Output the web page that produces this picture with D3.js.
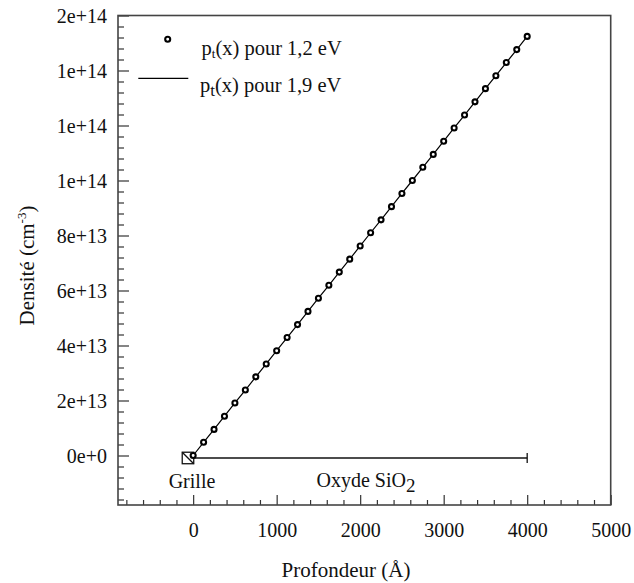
<!DOCTYPE html>
<html>
<head>
<meta charset="utf-8">
<script src="https://cdn.jsdelivr.net/npm/d3@7"></script>
<style>
  html, body { margin: 0; padding: 0; background: #fff; }
  svg { display: block; }
  svg text { font-family: "Liberation Serif", "Times New Roman", "DejaVu Serif", serif !important; fill: #111; }
</style>
</head>
<body>
<div id="chart"></div>
<script>
// Depth (Å) and trapped-hole density (cm^-3) through the oxide
const depth = [0, 125, 250, 375, 500, 625, 750, 875, 1000, 1125, 1250, 1375, 1500, 1625, 1750, 1875,
  2000, 2125, 2250, 2375, 2500, 2625, 2750, 2875, 3000, 3125, 3250, 3375, 3500, 3625, 3750, 3875, 4000];
const density12 = [0, 0.48e13, 0.95e13, 1.43e13, 1.91e13, 2.38e13, 2.86e13, 3.33e13, 3.81e13, 4.29e13,
  4.76e13, 5.24e13, 5.72e13, 6.19e13, 6.67e13, 7.14e13, 7.62e13, 8.10e13, 8.57e13, 9.05e13, 9.53e13,
  10.00e13, 10.48e13, 10.95e13, 11.43e13, 11.91e13, 12.38e13, 12.86e13, 13.34e13, 13.81e13, 14.29e13,
  14.76e13, 15.24e13];
const density19 = [0, 0.48e13, 0.95e13, 1.43e13, 1.91e13, 2.38e13, 2.86e13, 3.33e13, 3.81e13, 4.29e13,
  4.76e13, 5.24e13, 5.72e13, 6.19e13, 6.67e13, 7.14e13, 7.62e13, 8.10e13, 8.57e13, 9.05e13, 9.53e13,
  10.00e13, 10.48e13, 10.95e13, 11.43e13, 11.91e13, 12.38e13, 12.86e13, 13.34e13, 13.81e13, 14.29e13,
  14.76e13, 15.24e13];

// Axis ticks
const xTicks = [0, 1000, 2000, 3000, 4000, 5000];
const yTicks = [0, 2e13, 4e13, 6e13, 8e13, 1e14, 1.2e14, 1.4e14, 1.6e14];

// Structure markers: gate position and oxide extent
const gateDepth = -62;
const oxideStart = 0;
const oxideEnd = 4000;
const markerLevel = -9e11;

const W = 634, H = 583;
const M = { left: 118, right: 23.3, top: 15.5, bottom: 78 };
const serif = '"Liberation Serif", "Times New Roman", "DejaVu Serif", serif';

const svg = d3.select("#chart").append("svg")
  .attr("width", W).attr("height", H)
  .style("font-family", serif);

const x = d3.scaleLinear().domain([-900, 5000]).range([M.left, W - M.right]);
const y = d3.scaleLinear().domain([-1.8e13, 1.6e14]).range([H - M.bottom, M.top]);

const xMinor = d3.range(-4, 25).map(i => i * 200).filter(v => xTicks.indexOf(v) < 0);
const yMinor = d3.range(-4, 40).map(i => i * 4e12).filter(v => !yTicks.some(t => Math.abs(t - v) < 1));

const fmt = d3.format(".0e");
const axisColor = "#333";

// minor ticks (inside the frame)
svg.append("g").attr("transform", `translate(0,${y.range()[0]})`)
  .call(d3.axisBottom(x).tickValues(xMinor).tickSize(-5).tickFormat(""))
  .call(g => g.select(".domain").remove())
  .call(g => g.selectAll("line").attr("stroke", axisColor).attr("stroke-width", 1.2));
svg.append("g").attr("transform", `translate(${x.range()[0]},0)`)
  .call(d3.axisLeft(y).tickValues(yMinor).tickSize(-6).tickFormat(""))
  .call(g => g.select(".domain").remove())
  .call(g => g.selectAll("line").attr("stroke", axisColor).attr("stroke-width", 1.2));

// major ticks with labels
svg.append("g").attr("transform", `translate(0,${y.range()[0]})`)
  .call(d3.axisBottom(x).tickValues(xTicks).tickSize(-10).tickPadding(17.5).tickFormat(d3.format("d")))
  .call(g => g.attr("font-family", serif).attr("font-size", 20))
  .call(g => g.select(".domain").remove())
  .call(g => g.selectAll("line").attr("stroke", axisColor).attr("stroke-width", 1.2))
  .call(g => g.selectAll("text").style("fill", "#111"));
svg.append("g").attr("transform", `translate(${x.range()[0]},0)`)
  .call(d3.axisLeft(y).tickValues(yTicks).tickSize(-11).tickPadding(11).tickFormat(fmt))
  .call(g => g.attr("font-family", serif).attr("font-size", 20))
  .call(g => g.select(".domain").remove())
  .call(g => g.selectAll("line").attr("stroke", axisColor).attr("stroke-width", 1.2))
  .call(g => g.selectAll("text").attr("dy", "0.36em").style("fill", "#111"));

// frame
svg.append("rect")
  .attr("x", x.range()[0]).attr("y", y.range()[1])
  .attr("width", x.range()[1] - x.range()[0])
  .attr("height", y.range()[0] - y.range()[1])
  .attr("fill", "none").attr("stroke", "#444").attr("stroke-width", 1.6);

// axis titles
svg.append("text")
  .attr("x", 346).attr("y", 576.5)
  .attr("text-anchor", "middle").attr("font-size", 21)
  .text("Profondeur (Å)");

const yTitle = svg.append("text")
  .attr("transform", "translate(34,265.5) rotate(-90)")
  .attr("text-anchor", "middle").attr("font-size", 21);
yTitle.append("tspan").text("Densité (cm");
yTitle.append("tspan").attr("font-size", 13).attr("dy", -8).text("-3");
yTitle.append("tspan").attr("dy", 8).text(")");

// oxide bracket: from gate interface to the end of the oxide
const yb = y(markerLevel);
svg.append("line")
  .attr("x1", x(oxideStart)).attr("x2", x(oxideEnd))
  .attr("y1", yb).attr("y2", yb)
  .attr("stroke", "#111").attr("stroke-width", 1.3);
svg.append("line")
  .attr("x1", x(oxideEnd)).attr("x2", x(oxideEnd))
  .attr("y1", yb - 5).attr("y2", yb + 5)
  .attr("stroke", "#111").attr("stroke-width", 1.3);

// 1.9 eV profile as a line
const line = d3.line().x((d, i) => x(depth[i])).y(d => y(d));
svg.append("path")
  .datum(density19)
  .attr("d", line)
  .attr("fill", "none").attr("stroke", "#000").attr("stroke-width", 1.2);

// gate marker: square with a diagonal
const gx = x(gateDepth), s = 11.5;
svg.append("rect")
  .attr("x", gx - s / 2).attr("y", yb - s / 2).attr("width", s).attr("height", s)
  .attr("fill", "#fff").attr("stroke", "#111").attr("stroke-width", 1.3);
svg.append("line")
  .attr("x1", gx - s / 2).attr("y1", yb - s / 2).attr("x2", gx + s / 2).attr("y2", yb + s / 2)
  .attr("stroke", "#111").attr("stroke-width", 1.3);

// 1.2 eV profile as open circles
svg.append("g").selectAll("circle")
  .data(density12)
  .join("circle")
  .attr("cx", (d, i) => x(depth[i]))
  .attr("cy", d => y(d))
  .attr("r", 2.5)
  .attr("fill", "#fff").attr("stroke", "#000").attr("stroke-width", 2.1);

// region labels
svg.append("text")
  .attr("x", 192).attr("y", 488.3)
  .attr("text-anchor", "middle").attr("font-size", 20)
  .text("Grille");
const ox = svg.append("text")
  .attr("x", 316.5).attr("y", 487).attr("font-size", 20);
ox.append("tspan").text("Oxyde SiO");
ox.append("tspan").attr("dy", 5).attr("font-size", 19).text("2");

// legend
svg.append("circle")
  .attr("cx", 167.7).attr("cy", 39.3).attr("r", 2.5)
  .attr("fill", "#fff").attr("stroke", "#000").attr("stroke-width", 2.1);
const l1 = svg.append("text").attr("x", 201.5).attr("y", 54.5).attr("font-size", 20.5);
l1.append("tspan").text("p");
l1.append("tspan").attr("font-size", 13).attr("dy", 3.5).text("t");
l1.append("tspan").attr("dy", -3.5).text("(x) pour 1,2 eV");

svg.append("line")
  .attr("x1", 138.3).attr("x2", 188.3).attr("y1", 78.3).attr("y2", 78.3)
  .attr("stroke", "#000").attr("stroke-width", 1.2);
const l2 = svg.append("text").attr("x", 200).attr("y", 92).attr("font-size", 20.5);
l2.append("tspan").text("p");
l2.append("tspan").attr("font-size", 17).attr("dy", 4).text("t");
l2.append("tspan").attr("dy", -4).text("(x) pour 1,9 eV");
</script>
</body>
</html>
